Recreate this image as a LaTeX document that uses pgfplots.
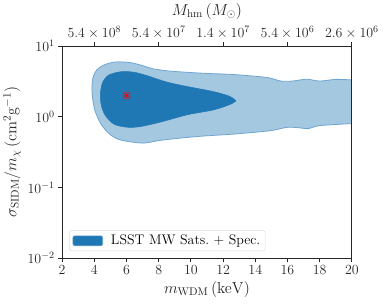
\RequirePackage{fix-cm}
\documentclass[border=0pt]{standalone}
\usepackage{pgfplots}
\pgfplotsset{compat=1.18}
\usetikzlibrary{plotmarks}
\definecolor{tabblue}{RGB}{31,119,180}
\definecolor{lightblue}{RGB}{165,200,225}
\definecolor{edgeblue}{RGB}{110,165,210}
\begin{document}
\begin{tikzpicture}
\begin{axis}[
  name=main,
  scale only axis,
  width=291pt, height=213pt,
  ymode=log,
  xmin=2, xmax=20, ymin=1e-2, ymax=10,
  xtick={2,4,...,20},
  ytick={1e-2,1e-1,1,10},
  minor tick length=0pt,
  tick align=outside,
  major tick length=4pt,
  xtick pos=bottom, ytick pos=left,
  axis line style={line width=0.9pt, black!85},
  every tick/.style={line width=0.9pt, black!85},
  tick label style={font=\fontsize{14}{16}\selectfont, black!85},
  label style={font=\fontsize{16}{18}\selectfont, black!85},
  xlabel={$m_{\rm WDM}\,(\mathrm{keV})$},
  ylabel={$\sigma_{\rm SIDM}/m_\chi\,(\mathrm{cm}^2\mathrm{g}^{-1})$},
  legend style={at={(0.025,0.033)}, anchor=south west, draw=black!15, rounded corners=2pt,
    font=\fontsize{14}{16}\selectfont, inner xsep=3pt, inner ysep=2.5pt},
  legend cell align=left,
  legend image code/.code={\draw[#1] (0pt,-5pt) rectangle (30pt,5pt); \path (36pt,0pt);},
  axis on top,
]
\addplot[forget plot, fill=lightblue, draw=edgeblue, line width=0.8pt, smooth] coordinates {
(20,3.32) (19,3.38) (18,3.2) (17.2,3.4) (16.3,3.2) (15.6,3.2) (14.7,3.6) (12.7,3.95)
(11,4.1) (9.8,4.25) (8.6,4.45) (7.6,4.8) (7.0,5.3) (6.2,5.85) (5.3,5.95) (4.6,5.4)
(4.15,4.6) (3.92,3.6) (3.85,2.6) (3.9,1.8) (4.05,1.2) (4.4,0.8) (4.9,0.58) (5.5,0.48)
(6.3,0.44) (7.1,0.425) (8.0,0.46) (9.0,0.49) (10.6,0.53) (12.7,0.57) (14.5,0.62)
(15.2,0.65) (16.0,0.71) (16.7,0.70) (17.3,0.68) (18.0,0.75) (20,0.80)
} -- cycle;
\addplot[forget plot, fill=tabblue, draw=tabblue, line width=0.5pt, smooth] coordinates {
(12.8,1.68) (12.4,1.95) (11.4,2.27) (9.8,2.67) (8.5,3.1) (7.3,3.8) (6.5,4.25) (5.7,4.35)
(4.9,3.9) (4.5,3.0) (4.37,2.0) (4.45,1.4) (4.7,1.03) (5.25,0.78) (6.1,0.71) (6.9,0.73)
(8.1,0.84) (9.8,1.07) (11.4,1.25) (12.45,1.5) (12.8,1.68)
} -- cycle;
\addplot[forget plot, only marks, mark=10-pointed star, mark size=4.2pt, red, fill=red] coordinates {(6,2)};
\addlegendimage{fill=tabblue, draw=edgeblue, line width=0.6pt}
\addlegendentry{LSST MW Sats.\ + Spec.}
\end{axis}
\begin{axis}[
  scale only axis,
  width=291pt, height=213pt,
  xmin=2, xmax=20,
  axis x line*=top,
  hide y axis,
  xtick={4,8,12,16,20},
  xticklabels={$5.4\times10^{8}$,$5.4\times10^{7}$,$1.4\times10^{7}$,$5.4\times10^{6}$,$2.6\times10^{6}$},
  tick align=outside,
  major tick length=4pt,
  axis line style={line width=0.9pt, black!85, -},
  every tick/.style={line width=0.9pt, black!85},
  tick label style={font=\fontsize{14}{16}\selectfont, black!85},
  label style={font=\fontsize{16}{18}\selectfont, black!85},
  xlabel={$M_{\rm hm}\,(M_\odot)$},
]
\addplot[draw=none] coordinates {(2,1) (20,1)};
\end{axis}
\path ([shift={(-60.7pt,-48.3pt)}]main.south west) rectangle ([shift={(31.3pt,41pt)}]main.north east);
\end{tikzpicture}
\end{document}
